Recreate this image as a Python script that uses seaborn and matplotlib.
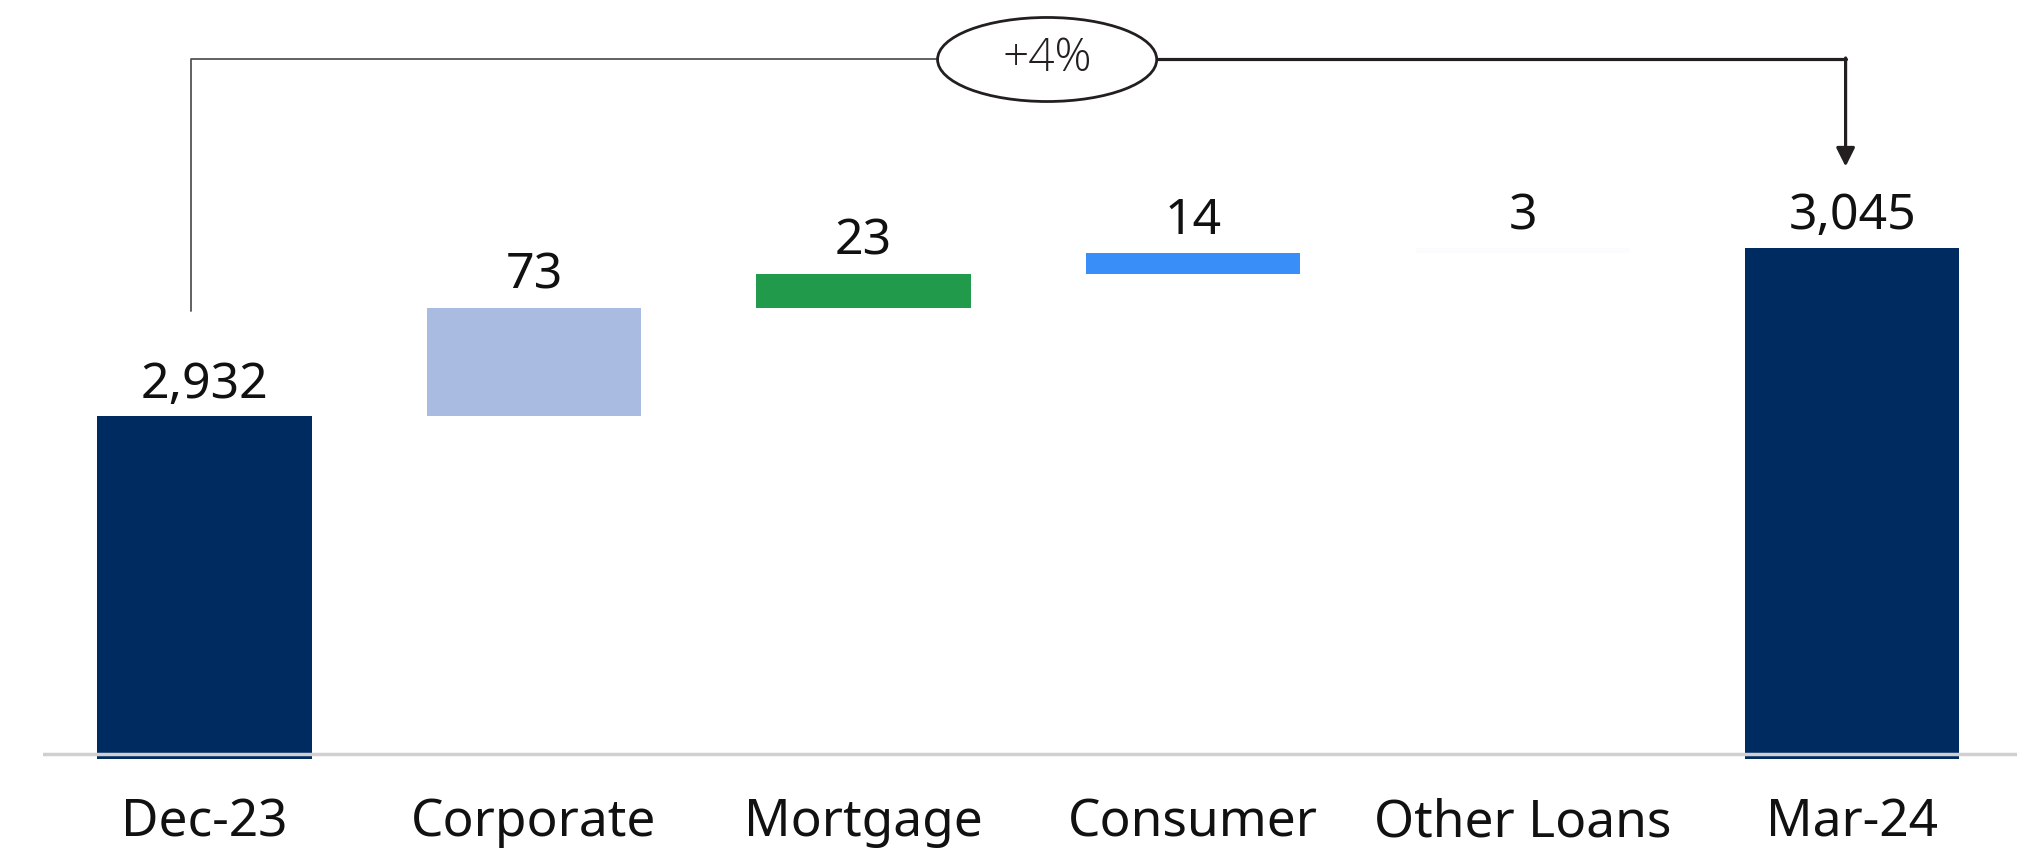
import numpy as np
import matplotlib
matplotlib.use('Agg')
import matplotlib.pyplot as plt
from matplotlib.patches import Ellipse
import seaborn as sns

categories = ['Dec-23', 'Corporate', 'Mortgage', 'Consumer', 'Other Loans', 'Mar-24']
values     = [2932, 73, 23, 14, 3, 3045]
is_total   = [True, False, False, False, False, True]
labels     = ['2,932', '73', '23', '14', '3', '3,045']
colors     = ['#002B60', '#A9BBE0', '#219B4B', '#3A8EF7', '#FBFCFE', '#002B60']
change_txt = '+4%'

sns.set_theme(style='white')
plt.rcParams['font.family'] = ['Noto Sans', 'DejaVu Sans']

# floating bar bottoms for the waterfall
bottoms, tops, run = [], [], 0
for v, t in zip(values, is_total):
    if t:
        bottoms.append(0); tops.append(v); run = v
    else:
        bottoms.append(run); run += v; tops.append(run)
heights = [t - b for t, b in zip(tops, bottoms)]

fig = plt.figure(figsize=(20.4, 8.48), dpi=100, facecolor='white')
ax = fig.add_axes([0.0211, 0.1055, 0.9676, 0.8945])

sns.barplot(x=categories, y=heights, palette=colors, hue=categories,
            legend=False, width=0.65, saturation=1, ax=ax, zorder=2)
for patch, b in zip(ax.patches, bottoms):
    patch.set_y(b)
    patch.set_edgecolor('none')

ybase = 2705
ax.set_ylim(ybase - 3, 3212)
ax.set_xlim(-0.49, 5.50)
ax.axhline(ybase, color='#D0D0D0', lw=2.5, zorder=3)

for i, (t, lab) in enumerate(zip(tops, labels)):
    ax.annotate(lab, (i, t), xytext=(0, 5), textcoords='offset points',
                ha='center', va='bottom', fontsize=36, color='#111111')

ax.set_yticks([])
ax.set_xlabel('')
ax.set_ylabel('')
ax.tick_params(axis='x', length=0, pad=28, labelsize=37, labelcolor='#111111')
for s in ax.spines.values():
    s.set_visible(False)

# connector with the percentage bubble
y_line, ell_x = 3172, 2.557
ax.plot([-0.04, -0.04, ell_x], [3003, y_line, y_line], color='#555555', lw=1.3, zorder=4)
ax.plot([ell_x, 4.98], [y_line, y_line], color='#231F20', lw=2.3, zorder=4)
ax.annotate('', xy=(4.98, 3100), xytext=(4.98, y_line + 1),
            arrowprops=dict(arrowstyle='-|>', color='#231F20', lw=2.3,
                            mutation_scale=28, shrinkA=0, shrinkB=0), zorder=4)
ax.add_patch(Ellipse((ell_x, y_line), 0.665, 56.5, facecolor='white',
                     edgecolor='#231F20', lw=2.0, zorder=5))
ax.text(ell_x, y_line, change_txt, ha='center', va='center', fontsize=33,
        fontweight='light', family=['Open Sans', 'DejaVu Sans'], color='#231F20', zorder=6)

plt.savefig('out.png', dpi=100, facecolor='white')
